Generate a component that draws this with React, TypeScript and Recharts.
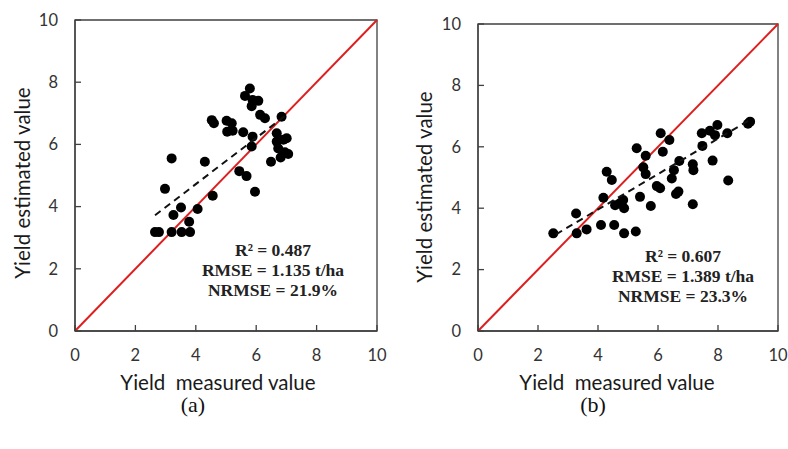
import {
  ReferenceArea,
  ReferenceLine,
  Scatter,
  ScatterChart,
  XAxis,
  YAxis,
} from "recharts";

// panel (a): measured vs estimated yield
const measuredA = [
  5.79, 5.63, 5.88, 6.07, 5.85, 6.13, 6.29, 4.53, 4.6, 5.02, 5.19, 5.04, 5.22, 5.57,
  5.88, 5.85, 6.84, 6.68, 6.68, 7.01, 6.9, 6.73, 7.06, 6.81, 6.49, 3.2, 4.3, 5.44,
  5.68, 5.96, 2.98, 4.56, 3.51, 4.06, 3.26, 3.78, 2.65, 2.78, 3.2, 3.53, 3.81, 6.95,
];
const estimatedA = [
  7.8, 7.56, 7.43, 7.4, 7.23, 6.95, 6.84, 6.78, 6.68, 6.76, 6.68, 6.41, 6.44, 6.39,
  6.25, 5.93, 6.89, 6.36, 6.09, 6.2, 6.15, 5.87, 5.69, 5.58, 5.44, 5.55, 5.44, 5.14,
  4.98, 4.48, 4.57, 4.35, 3.97, 3.92, 3.73, 3.51, 3.18, 3.18, 3.18, 3.18, 3.18, 5.75,
];
const trendXA = [2.65, 7.0];
const trendYA = [3.72, 6.95];

// panel (b)
const measuredB = [
  2.51, 3.27, 3.29, 3.62, 4.1, 4.18, 4.29, 4.46, 4.54, 4.87, 5.26, 4.57, 4.73, 4.87,
  4.84, 5.4, 5.76, 5.29, 5.59, 5.51, 5.59, 5.96, 6.07, 6.09, 6.38, 6.16, 6.71, 6.53,
  6.46, 6.6, 6.68, 7.16, 7.18, 7.16, 7.46, 7.48, 7.73, 7.9, 7.98, 7.82, 8.31, 8.34,
  9.07, 9.0,
];
const estimatedB = [
  3.18, 3.83, 3.18, 3.31, 3.45, 4.34, 5.19, 4.92, 3.45, 3.18, 3.24, 4.1, 4.16, 4.0,
  4.27, 4.37, 4.07, 5.95, 5.71, 5.33, 5.11, 4.72, 4.65, 6.44, 6.22, 5.84, 5.54, 5.24,
  4.97, 4.46, 4.54, 5.43, 5.24, 4.13, 6.44, 6.03, 6.52, 6.38, 6.71, 5.55, 6.44, 4.9,
  6.82, 6.75,
];
const trendXB = [2.6, 9.1];
const trendYB = [3.15, 6.9];

const axisTicks = [0, 2, 4, 6, 8, 10];
const statsA = ["R² = 0.487", "RMSE = 1.135 t/ha", "NRMSE = 21.9%"];
const statsB = ["R² = 0.607", "RMSE = 1.389 t/ha", "NRMSE = 23.3%"];

const AXIS = "#404040";
const tickStyle = { fill: "#333", fontSize: 16.5, fontFamily: "Lato" };

const toPoints = (xs: number[], ys: number[]) => xs.map((x, i) => ({ x, y: ys[i] }));

const Dot = (props: any) => <circle cx={props.cx} cy={props.cy} r={5} fill="#000" />;

function Panel({
  width,
  yWidth,
  top,
  right,
  points,
  trend,
}: {
  width: number;
  yWidth: number;
  top: number;
  right: number;
  points: { x: number; y: number }[];
  trend: { x: number; y: number }[];
}) {
  return (
    <ScatterChart
      width={width}
      height={449}
      margin={{ top, right, bottom: 78, left: 0 }}
    >
      <XAxis
        type="number"
        dataKey="x"
        domain={[0, 10]}
        ticks={axisTicks}
        height={40}
        stroke={AXIS}
        strokeWidth={1.3}
        tickSize={-6}
        tickMargin={24}
        tick={tickStyle}
      />
      <YAxis
        type="number"
        dataKey="y"
        domain={[0, 10]}
        ticks={axisTicks}
        width={yWidth}
        stroke={AXIS}
        strokeWidth={1.3}
        tickSize={-6}
        tickMargin={23}
        tick={tickStyle}
      />
      <ReferenceArea
        x1={0}
        x2={10}
        y1={0}
        y2={10}
        fill="none"
        stroke={AXIS}
        strokeWidth={1.3}
      />
      <ReferenceLine
        segment={[
          { x: 0, y: 0 },
          { x: 10, y: 10 },
        ]}
        stroke="#dd1f1f"
        strokeWidth={2}
      />
      <Scatter data={points} shape={Dot} isAnimationActive={false} />
      <Scatter
        data={trend}
        line={{ stroke: "#111", strokeWidth: 2, strokeDasharray: "7 5" }}
        shape={() => <g />}
        isAnimationActive={false}
      />
    </ScatterChart>
  );
}

const abs = (left: number, top: number): React.CSSProperties => ({
  position: "absolute",
  left,
  top,
});

function Stats({ lines, cx, cy }: { lines: string[]; cx: number; cy: number }) {
  return (
    <>
      {lines.map((t, i) => (
        <div
          key={t}
          style={{
            ...abs(cx - 100, cy - 10 + i * 20),
            width: 200,
            textAlign: "center",
            fontFamily: "Liberation Serif",
            fontWeight: "bold",
            fontSize: 17.5,
            lineHeight: "20px",
            color: "#222",
          }}
        >
          {t}
        </div>
      ))}
    </>
  );
}

const yLabel = (cx: number, cy: number) => (
  <div
    style={{
      ...abs(cx - 110, cy - 12),
      width: 220,
      height: 24,
      lineHeight: "24px",
      textAlign: "center",
      transform: "rotate(-90deg)",
      fontFamily: "Lato",
      fontSize: 20.5,
      color: "#1a1a1a",
    }}
  >
    Yield estimated value
  </div>
);

const xLabel = (cx: number, cy: number) => (
  <div
    style={{
      ...abs(cx - 130, cy - 12),
      width: 260,
      lineHeight: "24px",
      textAlign: "center",
      fontFamily: "Lato",
      fontSize: 20.5,
      color: "#1a1a1a",
      whiteSpace: "pre",
    }}
  >
    {"Yield  measured value"}
  </div>
);

const caption = (cx: number, t: string) => (
  <div
    style={{
      ...abs(cx - 30, 393),
      width: 60,
      textAlign: "center",
      fontFamily: "Liberation Serif",
      fontSize: 22,
      lineHeight: "24px",
      color: "#111",
    }}
  >
    {t}
  </div>
);

export default function App() {
  return (
    <div style={{ position: "absolute", left: 0, top: 0, width: 788, height: 449, background: "#fff" }}>
      <div style={abs(0, 0)}>
        <Panel
          width={400}
          yWidth={75}
          top={20}
          right={23}
          points={toPoints(measuredA, estimatedA)}
          trend={toPoints(trendXA, trendYA)}
        />
      </div>
      <div style={abs(400, 0)}>
        <Panel
          width={388}
          yWidth={78}
          top={24}
          right={10}
          points={toPoints(measuredB, estimatedB)}
          trend={toPoints(trendXB, trendYB)}
        />
      </div>
      {yLabel(22, 183)}
      {yLabel(424, 187)}
      {xLabel(218, 382)}
      {xLabel(617, 382)}
      <Stats lines={statsA} cx={273} cy={250} />
      <Stats lines={statsB} cx={683} cy={256} />
      {caption(193, "(a)")}
      {caption(593, "(b)")}
    </div>
  );
}
